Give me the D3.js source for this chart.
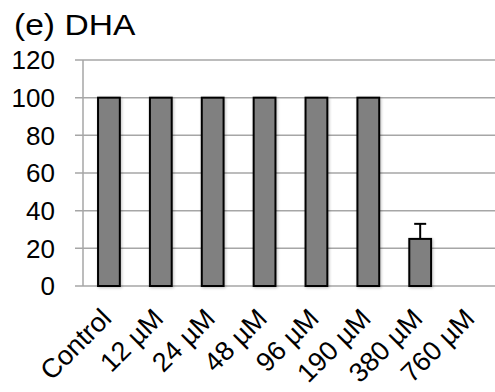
<!DOCTYPE html>
<html>
<head>
<meta charset="utf-8">
<script src="https://cdn.jsdelivr.net/npm/d3@7"></script>
<style>
  body { margin: 0; background: #fff; }
  svg { display: block; font-family: "Liberation Sans", Arial, sans-serif; }
</style>
</head>
<body>
<svg id="chart"></svg>
<script>
'use strict';

const categories = ["Control", "12 µM", "24 µM", "48 µM", "96 µM", "190 µM", "380 µM", "760 µM"];
const values = [100, 100, 100, 100, 100, 100, 25, 0];
const errors = [0, 0, 0, 0, 0, 0, 8, 0];
const yTicks = [0, 20, 40, 60, 80, 100, 120];

const width = 495;
const height = 392;
const margin = {top: 60, right: -3, bottom: 106, left: 83};

const svg = d3.select("#chart")
    .attr("width", width)
    .attr("height", height);

const x = d3.scaleBand()
    .domain(categories)
    .range([margin.left, width - margin.right])
    .paddingInner(0.58)
    .paddingOuter(0.29);

const y = d3.scaleLinear()
    .domain([0, 120])
    .range([height - margin.bottom, margin.top]);

// title
svg.append("text")
    .attr("transform", "translate(14,35) scale(1.12,1)")
    .attr("font-size", 30)
    .attr("fill", "#000")
    .text("(e) DHA");

// gridlines
svg.append("g")
    .selectAll("line")
    .data(yTicks)
    .enter()
    .append("line")
    .attr("x1", margin.left - 8)
    .attr("x2", width)
    .attr("y1", d => y(d))
    .attr("y2", d => y(d))
    .attr("stroke", "#a6a6a6")
    .attr("stroke-width", 1.5);

// y axis line
svg.append("line")
    .attr("x1", margin.left)
    .attr("x2", margin.left)
    .attr("y1", y(120))
    .attr("y2", y(0))
    .attr("stroke", "#a6a6a6")
    .attr("stroke-width", 1.5);

// y tick labels
svg.append("g")
    .selectAll("text")
    .data(yTicks)
    .enter()
    .append("text")
    .attr("x", 55)
    .attr("y", d => y(d))
    .attr("dy", "0.36em")
    .attr("text-anchor", "end")
    .attr("font-size", 26)
    .attr("fill", "#000")
    .text(d => d);

// shadow filter
const defs = svg.append("defs");
const f = defs.append("filter").attr("id", "shadow").attr("x", "-30%").attr("y", "-10%").attr("width", "160%").attr("height", "120%");
f.append("feGaussianBlur").attr("in", "SourceAlpha").attr("stdDeviation", 1.5);
f.append("feOffset").attr("dx", 1).attr("dy", 1).attr("result", "b");
f.append("feComponentTransfer").append("feFuncA").attr("type", "linear").attr("slope", 0.25);
const m = f.append("feMerge");
m.append("feMergeNode");
m.append("feMergeNode").attr("in", "SourceGraphic");

// bars
svg.append("g")
    .selectAll("rect")
    .data(categories.map((c, i) => ({c: c, v: values[i], e: errors[i]})).filter(d => d.v > 0))
    .enter()
    .append("rect")
    .attr("x", d => x(d.c))
    .attr("y", d => y(d.v))
    .attr("width", x.bandwidth())
    .attr("height", d => y(0) - y(d.v))
    .attr("fill", "#808080")
    .attr("stroke", "#000")
    .attr("stroke-width", 2)
    .attr("filter", "url(#shadow)");

// error bars
const eb = svg.append("g")
    .selectAll("g")
    .data(categories.map((c, i) => ({c: c, v: values[i], e: errors[i]})).filter(d => d.e > 0))
    .enter()
    .append("g");
eb.append("line")
    .attr("x1", d => x(d.c) + x.bandwidth() / 2)
    .attr("x2", d => x(d.c) + x.bandwidth() / 2)
    .attr("y1", d => y(d.v))
    .attr("y2", d => y(d.v + d.e))
    .attr("stroke", "#000")
    .attr("stroke-width", 2);
eb.append("line")
    .attr("x1", d => x(d.c) + x.bandwidth() / 2 - 6)
    .attr("x2", d => x(d.c) + x.bandwidth() / 2 + 6)
    .attr("y1", d => y(d.v + d.e))
    .attr("y2", d => y(d.v + d.e))
    .attr("stroke", "#000")
    .attr("stroke-width", 2);

// x labels
svg.append("g")
    .selectAll("text")
    .data(categories)
    .enter()
    .append("text")
    .attr("transform", d => "translate(" + (x(d) + x.bandwidth() / 2 + 4) + "," + (y(0) + 34) + ") rotate(-45)")
    .attr("text-anchor", "end")
    .attr("font-size", 27)
    .attr("fill", "#000")
    .text(d => d);
</script>
</body>
</html>
